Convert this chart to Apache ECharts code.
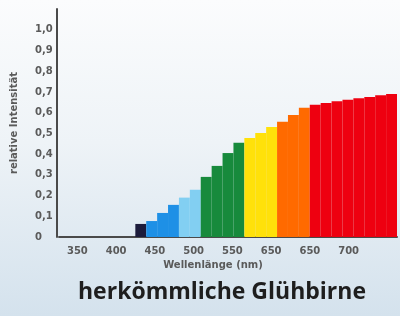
<!DOCTYPE html>
<html>
<head>
<meta charset="utf-8">
<script src="https://cdn.jsdelivr.net/npm/echarts@6/dist/echarts.min.js"></script>
<style>
  html, body { margin: 0; padding: 0; }
  #chart {
    width: 400px;
    height: 316px;
    background: linear-gradient(to bottom, #fbfcfd 0%, #eef3f7 45%, #d4e2ed 100%);
  }
</style>
</head>
<body>
<div id="chart"></div>
<script>
// one step of the spectrum per entry
var steps = ['330', '340', '350', '360', '370', '380', '390', '400', '410', '420', '430',
  '440', '450', '460', '470', '480', '490', '500', '510', '520', '530', '540', '550',
  '560', '570', '580', '590', '600', '610', '620', '630'];
var intensity = [0, 0, 0, 0, 0, 0, 0, 0.063, 0.077, 0.116, 0.155, 0.19, 0.228, 0.29, 0.343,
  0.405, 0.455, 0.478, 0.502, 0.531, 0.556, 0.589, 0.623, 0.638, 0.647, 0.655, 0.662,
  0.67, 0.676, 0.684, 0.69];
var stepColors = ['#fff', '#fff', '#fff', '#fff', '#fff', '#fff', '#fff', '#1c1c3c',
  '#1e90e6', '#1e90e6', '#1e90e6', '#82cff2', '#82cff2', '#178a3c', '#178a3c', '#178a3c',
  '#178a3c', '#ffe10a', '#ffe10a', '#ffe10a', '#ff6a00', '#ff6a00', '#ff6a00', '#ee0010',
  '#ee0010', '#ee0010', '#ee0010', '#ee0010', '#ee0010', '#ee0010', '#ee0010'];
var tickLabels = ['350', '400', '450', '500', '550', '650', '650', '700'];

var myChart = echarts.init(document.getElementById('chart'));

var labelFont = { fontFamily: 'DejaVu Sans', fontWeight: 'bold', fontSize: 10, color: '#5a5a5a' };

var option = {
  animation: false,
  title: {
    text: 'herkömmliche Glühbirne',
    left: 217,
    textAlign: 'center',
    top: 276,
    textStyle: { fontFamily: 'Open Sans', fontWeight: 'bold', fontSize: 23, color: '#1e1e1e' }
  },
  grid: [
    { left: 59, right: 3, top: 9, bottom: 79 },
    { left: 58, width: 310, top: 9, bottom: 79 }
  ],
  xAxis: [
    {
      type: 'category',
      gridIndex: 0,
      data: steps,
      axisLine: { lineStyle: { color: '#4a4a4a', width: 2 } },
      axisTick: { show: false },
      axisLabel: { show: false }
    },
    {
      type: 'category',
      gridIndex: 1,
      data: tickLabels,
      axisLine: { show: false },
      axisTick: { show: false },
      axisLabel: Object.assign({ margin: 9 }, labelFont),
      name: 'Wellenlänge (nm)',
      nameLocation: 'middle',
      nameGap: 22,
      nameTextStyle: { fontFamily: 'DejaVu Sans', fontWeight: 'bold', fontSize: 10, color: '#5a5a5a' }
    }
  ],
  yAxis: [
    {
      type: 'value',
      gridIndex: 0,
      min: 0,
      max: 1.1,
      interval: 0.1,
      offset: 2,
      splitLine: { show: false },
      axisLine: { show: true, lineStyle: { color: '#4a4a4a', width: 2 } },
      axisTick: { show: false },
      axisLabel: Object.assign({
        margin: 22,
        align: 'left',
        formatter: function (v) {
          if (v > 1.05) return '';
          if (v === 0) return '0';
          return v.toFixed(1).replace('.', ',');
        }
      }, labelFont),
      name: 'relative Intensität',
      nameLocation: 'middle',
      nameGap: 38,
      nameRotate: 90,
      nameTextStyle: { fontFamily: 'DejaVu Sans', fontWeight: 'bold', fontSize: 10, color: '#5a5a5a' }
    },
    {
      type: 'value',
      gridIndex: 1,
      show: false
    }
  ],
  series: [
    {
      type: 'bar',
      xAxisIndex: 0,
      yAxisIndex: 0,
      barCategoryGap: 0,
      data: intensity.map(function (v, i) {
        return { value: v, itemStyle: { color: stepColors[i] } };
      })
    }
  ]
};

myChart.setOption(option);
</script>
</body>
</html>
